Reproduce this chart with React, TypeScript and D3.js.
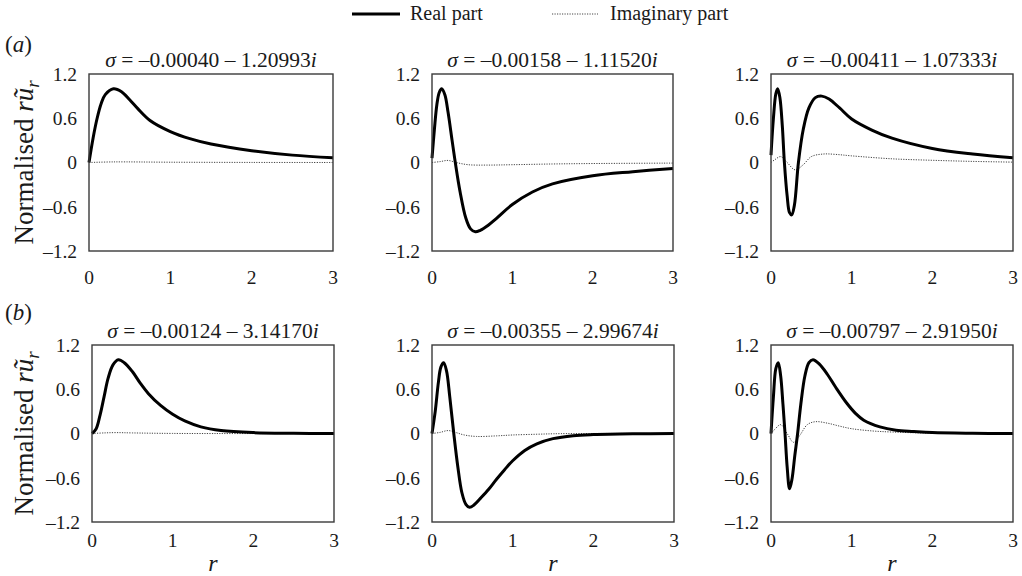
import React from 'react';
import * as d3 from 'd3';

// ---------- data ----------
const xTicks = [0, 1, 2, 3];
const yTicks = [1.2, 0.6, 0, -0.6, -1.2];
const yTickLabels = ['1.2', '0.6', '0', '\u20130.6', '\u20131.2'];

const sigmaRe = ['\u20130.00040', '\u20130.00158', '\u20130.00411', '\u20130.00124', '\u20130.00355', '\u20130.00797'];
const sigmaIm = ['1.20993', '1.11520', '1.07333', '3.14170', '2.99674', '2.91950'];
const rowLabels = ['a', 'b'];

// panel (a) left
const rA1 = [0, 0.05, 0.1, 0.15, 0.2, 0.3, 0.4, 0.5, 0.6, 0.75, 1.0, 1.25, 1.5, 2.0, 2.5, 3.0];
const reA1 = [0, 0.33, 0.6, 0.8, 0.92, 1.0, 0.96, 0.85, 0.73, 0.57, 0.42, 0.32, 0.25, 0.16, 0.1, 0.065];
const rImA1 = [0, 0.3, 1.0, 2.0, 3.0];
const imA1 = [0, 0.008, 0.004, 0.001, 0];

// panel (a) middle
const rA2 = [0, 0.03, 0.06, 0.09, 0.12, 0.16, 0.2, 0.25, 0.29, 0.35, 0.42, 0.48, 0.54, 0.6, 0.7, 0.8, 1.0, 1.25, 1.5, 2.0, 2.5, 3.0];
const reA2 = [0.06, 0.45, 0.78, 0.95, 1.0, 0.92, 0.68, 0.3, 0, -0.4, -0.75, -0.9, -0.94, -0.92, -0.85, -0.76, -0.57, -0.4, -0.29, -0.18, -0.125, -0.08];
const rImA2 = [0, 0.1, 0.2, 0.3, 0.45, 0.7, 1.0, 1.5, 2.0, 3.0];
const imA2 = [0, 0.012, 0.028, 0.0, -0.03, -0.035, -0.03, -0.02, -0.014, -0.008];

// panel (a) right
const rA3 = [0, 0.03, 0.06, 0.083, 0.11, 0.14, 0.166, 0.2, 0.23, 0.257, 0.29, 0.34, 0.4, 0.47, 0.55, 0.63, 0.72, 0.85, 1.0, 1.25, 1.5, 2.0, 2.5, 3.0];
const reA3 = [0.1, 0.6, 0.93, 1.0, 0.88, 0.5, 0, -0.45, -0.68, -0.71, -0.58, 0, 0.45, 0.74, 0.88, 0.9, 0.86, 0.74, 0.59, 0.44, 0.33, 0.19, 0.115, 0.065];
const rImA3 = [0, 0.05, 0.12, 0.2, 0.3, 0.4, 0.5, 0.65, 0.8, 1.0, 1.5, 2.0, 2.5, 3.0];
const imA3 = [0, 0.04, 0.08, 0.0, -0.1, -0.03, 0.08, 0.115, 0.11, 0.09, 0.05, 0.03, 0.015, 0.005];

// panel (b) left
const rB1 = [0, 0.05, 0.1, 0.15, 0.2, 0.26, 0.326, 0.4, 0.5, 0.6, 0.7, 0.85, 1.0, 1.15, 1.35, 1.6, 2.0, 2.5, 3.0];
const reB1 = [0, 0.06, 0.25, 0.5, 0.75, 0.93, 1.0, 0.96, 0.84, 0.68, 0.54, 0.38, 0.26, 0.17, 0.09, 0.04, 0.012, 0.003, 0];
const rImB1 = [0, 0.15, 0.3, 0.5, 1.0, 3.0];
const imB1 = [0, 0.008, 0.012, 0.008, 0.001, 0];

// panel (b) middle
const rB2 = [0, 0.04, 0.08, 0.11, 0.144, 0.18, 0.22, 0.27, 0.32, 0.37, 0.42, 0.466, 0.52, 0.6, 0.7, 0.8, 0.9, 1.0, 1.15, 1.3, 1.5, 1.75, 2.0, 2.5, 3.0];
const reB2 = [0, 0.3, 0.7, 0.9, 0.96, 0.85, 0.5, 0, -0.45, -0.8, -0.96, -1.0, -0.97, -0.88, -0.76, -0.62, -0.49, -0.37, -0.23, -0.14, -0.07, -0.03, -0.015, -0.004, 0];
const rImB2 = [0, 0.1, 0.2, 0.3, 0.4, 0.55, 0.8, 1.0, 1.3, 1.6, 3.0];
const imB2 = [0, 0.015, 0.04, 0.012, -0.02, -0.04, -0.032, -0.02, -0.01, -0.002, 0];

// panel (b) right
const rB3 = [0, 0.03, 0.06, 0.09, 0.12, 0.148, 0.174, 0.2, 0.23, 0.26, 0.295, 0.33, 0.37, 0.42, 0.47, 0.52, 0.6, 0.7, 0.8, 0.94, 1.05, 1.15, 1.35, 1.55, 1.77, 2.0, 2.5, 3.0];
const reB3 = [0, 0.5, 0.88, 0.96, 0.78, 0.4, 0, -0.45, -0.75, -0.62, -0.3, 0, 0.4, 0.78, 0.96, 1.0, 0.94, 0.8, 0.63, 0.41, 0.27, 0.18, 0.09, 0.045, 0.027, 0.012, 0.003, 0];
const rImB3 = [0, 0.05, 0.12, 0.2, 0.28, 0.36, 0.45, 0.55, 0.7, 0.85, 1.0, 1.25, 1.5, 2.0, 3.0];
const imB3 = [0, 0.06, 0.12, 0.0, -0.12, -0.02, 0.12, 0.16, 0.14, 0.1, 0.065, 0.035, 0.02, 0.005, 0];

const realR = [rA1, rA2, rA3, rB1, rB2, rB3];
const realV = [reA1, reA2, reA3, reB1, reB2, reB3];
const imagR = [rImA1, rImA2, rImA3, rImB1, rImB2, rImB3];
const imagV = [imA1, imA2, imA3, imB1, imB2, imB3];

// ---------- layout ----------
const W = 1022;
const H = 576;
const rowsY = [
  [74, 251],
  [345, 522],
];
const colsX = [
  [
    [89, 333],
    [432, 673],
    [771, 1013],
  ],
  [
    [92, 334],
    [432, 674],
    [771, 1013],
  ],
];
const FONT = "'Liberation Serif', 'Times New Roman', serif";
const INK = '#1a1a1a';

function Panel({ idx }: { idx: number }) {
  const row = Math.floor(idx / 3);
  const col = idx % 3;
  const [x0, x1] = colsX[row][col];
  const [y0, y1] = rowsY[row];
  const x = d3.scaleLinear().domain([0, 3]).range([x0, x1]);
  const y = d3.scaleLinear().domain([-1.2, 1.2]).range([y1, y0]);
  const line = d3
    .line<[number, number]>()
    .x((d) => x(d[0]))
    .y((d) => y(d[1]))
    .curve(d3.curveCatmullRom.alpha(0.5));
  const realPts = realR[idx].map((r, i) => [r, realV[idx][i]] as [number, number]);
  const imagPts = imagR[idx].map((r, i) => [r, imagV[idx][i]] as [number, number]);
  const xLabelY = row === 0 ? 284 : 547;
  return (
    <g>
      <path d={line(imagPts) || ''} fill="none" stroke="#444" strokeWidth={1} strokeDasharray="1.2,1.3" />
      <path d={line(realPts) || ''} fill="none" stroke="#000" strokeWidth={3} strokeLinejoin="round" />
      <rect x={x0} y={y0} width={x1 - x0} height={y1 - y0} fill="none" stroke="#3a3a3a" strokeWidth={1.4} />
      {yTicks.map((t, i) => (
        <text key={'y' + i} x={x0 - 12} y={y(t)} dy="0.35em" textAnchor="end" fontSize={19.5} fill={INK}>
          {yTickLabels[i]}
        </text>
      ))}
      {xTicks.map((t) => (
        <text key={'x' + t} x={x(t)} y={xLabelY} textAnchor="middle" fontSize={19.5} fill={INK}>
          {String(t)}
        </text>
      ))}
      <text x={(x0 + x1) / 2} y={y0 - 7} textAnchor="middle" fontSize={21.5} fill={INK}>
        <tspan fontStyle="italic">σ</tspan>
        {' = ' + sigmaRe[idx] + ' \u2013 ' + sigmaIm[idx]}
        <tspan fontStyle="italic">i</tspan>
      </text>
      {row === 1 && (
        <text x={(x0 + x1) / 2} y={571} textAnchor="middle" fontSize={24} fontStyle="italic" fill={INK}>
          r
        </text>
      )}
    </g>
  );
}

export default function App() {
  return (
    <svg
      width={W}
      height={H}
      viewBox={`0 0 ${W} ${H}`}
      style={{ position: 'absolute', left: 0, top: 0, background: '#fff' }}
      fontFamily={FONT}
    >
      <rect x={0} y={0} width={W} height={H} fill="#fff" />
      {/* legend */}
      <line x1={352} x2={400} y1={14} y2={14} stroke="#000" strokeWidth={3} />
      <text x={410} y={20} fontSize={20} fill={INK}>Real part</text>
      <line x1={552} x2={598} y1={14} y2={14} stroke="#444" strokeWidth={1} strokeDasharray="1.2,1.3" />
      <text x={610} y={20} fontSize={20} fill={INK}>Imaginary part</text>

      {rowLabels.map((l, i) => (
        <text key={l} x={5} y={i === 0 ? 52 : 320} fontSize={23} fill={INK}>
          (<tspan fontStyle="italic">{l}</tspan>)
        </text>
      ))}
      {rowsY.map(([a, b], i) => (
        <text
          key={'yl' + i}
          transform={`translate(33, ${(a + b) / 2}) rotate(-90)`}
          textAnchor="middle"
          fontSize={27}
          fill={INK}
        >
          Normalised <tspan fontStyle="italic">r</tspan>
          <tspan fontStyle="italic">ũ</tspan>
          <tspan fontStyle="italic" fontSize={19} dy={6}>r</tspan>
        </text>
      ))}
      {[0, 1, 2, 3, 4, 5].map((i) => (
        <Panel key={i} idx={i} />
      ))}
    </svg>
  );
}
